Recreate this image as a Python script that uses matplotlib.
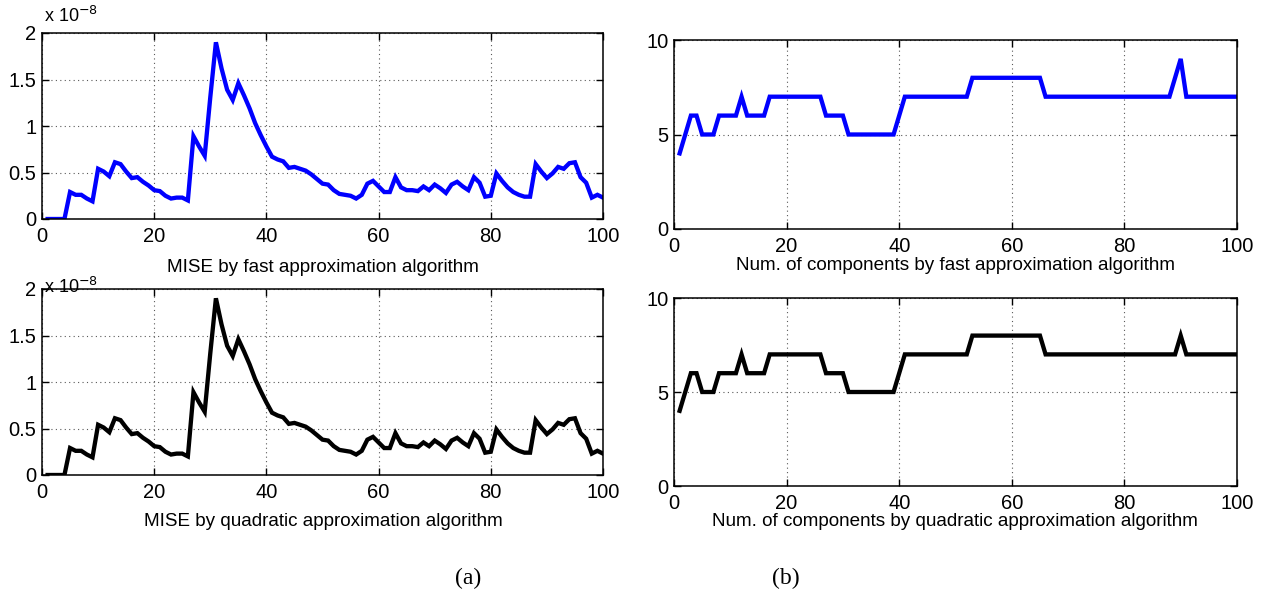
import matplotlib
matplotlib.use("Agg")
import matplotlib.pyplot as plt
from matplotlib.ticker import FuncFormatter

# ---- data (x = 1..100) ----
x_index = list(range(1, 101))

# MISE values in units of 1e-8
mise_fast = [0, 0, 0, 0, 0.29, 0.26, 0.26, 0.22, 0.19, 0.54,
             0.51, 0.46, 0.61, 0.59, 0.51, 0.44, 0.45, 0.40, 0.36, 0.31,
             0.30, 0.25, 0.22, 0.23, 0.23, 0.20, 0.89, 0.78, 0.68, 1.31,
             1.90, 1.62, 1.39, 1.28, 1.46, 1.33, 1.19, 1.03, 0.90, 0.78,
             0.67, 0.64, 0.62, 0.55, 0.56, 0.54, 0.52, 0.48, 0.43, 0.38,
             0.37, 0.31, 0.27, 0.26, 0.25, 0.22, 0.26, 0.38, 0.41, 0.35,
             0.29, 0.29, 0.45, 0.34, 0.31, 0.31, 0.30, 0.35, 0.31, 0.37,
             0.33, 0.28, 0.37, 0.40, 0.35, 0.31, 0.45, 0.39, 0.24, 0.25,
             0.49, 0.41, 0.34, 0.29, 0.26, 0.24, 0.24, 0.59, 0.51, 0.44,
             0.49, 0.56, 0.54, 0.60, 0.61, 0.45, 0.39, 0.23, 0.26, 0.23]

mise_quad = [0, 0, 0, 0, 0.29, 0.26, 0.26, 0.22, 0.19, 0.54,
             0.51, 0.46, 0.61, 0.59, 0.51, 0.44, 0.45, 0.40, 0.36, 0.31,
             0.30, 0.25, 0.22, 0.23, 0.23, 0.20, 0.89, 0.78, 0.68, 1.31,
             1.90, 1.62, 1.39, 1.28, 1.46, 1.33, 1.19, 1.03, 0.90, 0.78,
             0.67, 0.64, 0.62, 0.55, 0.56, 0.54, 0.52, 0.48, 0.43, 0.38,
             0.37, 0.31, 0.27, 0.26, 0.25, 0.22, 0.26, 0.38, 0.41, 0.35,
             0.29, 0.29, 0.45, 0.34, 0.31, 0.31, 0.30, 0.35, 0.31, 0.37,
             0.33, 0.28, 0.37, 0.40, 0.35, 0.31, 0.45, 0.39, 0.24, 0.25,
             0.49, 0.41, 0.34, 0.29, 0.26, 0.24, 0.24, 0.59, 0.51, 0.44,
             0.49, 0.56, 0.54, 0.60, 0.61, 0.45, 0.39, 0.23, 0.26, 0.23]

comp_fast = [4, 5, 6, 6, 5, 5, 5, 6, 6, 6,
             6, 7, 6, 6, 6, 6, 7, 7, 7, 7,
             7, 7, 7, 7, 7, 7, 6, 6, 6, 6,
             5, 5, 5, 5, 5, 5, 5, 5, 5, 6,
             7, 7, 7, 7, 7, 7, 7, 7, 7, 7,
             7, 7, 8, 8, 8, 8, 8, 8, 8, 8,
             8, 8, 8, 8, 8, 7, 7, 7, 7, 7,
             7, 7, 7, 7, 7, 7, 7, 7, 7, 7,
             7, 7, 7, 7, 7, 7, 7, 7, 8, 9,
             7, 7, 7, 7, 7, 7, 7, 7, 7, 7]

comp_quad = [4, 5, 6, 6, 5, 5, 5, 6, 6, 6,
             6, 7, 6, 6, 6, 6, 7, 7, 7, 7,
             7, 7, 7, 7, 7, 7, 6, 6, 6, 6,
             5, 5, 5, 5, 5, 5, 5, 5, 5, 6,
             7, 7, 7, 7, 7, 7, 7, 7, 7, 7,
             7, 7, 8, 8, 8, 8, 8, 8, 8, 8,
             8, 8, 8, 8, 8, 7, 7, 7, 7, 7,
             7, 7, 7, 7, 7, 7, 7, 7, 7, 7,
             7, 7, 7, 7, 7, 7, 7, 7, 7, 8,
             7, 7, 7, 7, 7, 7, 7, 7, 7, 7]

x_ticks = [0, 20, 40, 60, 80, 100]
mise_ticks = [0, 0.5, 1, 1.5, 2]
comp_ticks = [0, 5, 10]

label_mise_fast = "MISE by fast approximation algorithm"
label_mise_quad = "MISE by quadratic approximation algorithm"
label_comp_fast = "Num. of components by fast approximation algorithm"
label_comp_quad = "Num. of components by quadratic approximation algorithm"

# ---- figure ----
W, H = 1261, 596
fig = plt.figure(figsize=(W / 100, H / 100), dpi=100)
plt.rcParams['font.family'] = ['Liberation Sans', 'DejaVu Sans']

def px_axes(l, t, r, b):
    return fig.add_axes([l / W, 1 - b / H, (r - l) / W, (b - t) / H])

fmt = FuncFormatter(lambda v, p: "%g" % v)

def style(ax, yticks, ylim):
    ax.set_xlim(0, 100)
    ax.set_ylim(*ylim)
    ax.set_xticks(x_ticks)
    ax.set_yticks(yticks)
    ax.yaxis.set_major_formatter(fmt)
    ax.xaxis.set_major_formatter(fmt)
    ax.grid(True, linestyle=(0, (1, 3)), color='0.35', linewidth=0.8)
    ax.tick_params(direction='in', top=True, right=True, length=5,
                   width=1.0, labelsize=14.5, colors='black')
    ax.tick_params(axis='x', pad=6)
    ax.tick_params(axis='y', pad=4)
    for s in ax.spines.values():
        s.set_linewidth(1.1)
        s.set_color('black')
    ax.set_axisbelow(True)

ax1 = px_axes(42, 33, 603, 219)
ax2 = px_axes(42, 289, 603, 475)
ax3 = px_axes(674, 40, 1237, 229)
ax4 = px_axes(674, 298, 1237, 486)

ax1.plot(x_index, mise_fast, color='#0000ff', lw=3.1, solid_joinstyle='miter')
ax2.plot(x_index, mise_quad, color='black', lw=3.1, solid_joinstyle='miter')
ax3.plot(x_index, comp_fast, color='#0000ff', lw=3.1, solid_joinstyle='miter')
ax4.plot(x_index, comp_quad, color='black', lw=3.1, solid_joinstyle='miter')

for ax in (ax1, ax2):
    style(ax, mise_ticks, (0, 2))
for ax in (ax3, ax4):
    style(ax, comp_ticks, (0, 10))

# exponent labels
fig.text(44 / W, 1 - 16 / H, r"x 10$^{-8}$", fontsize=13, ha='left', va='center')
fig.text(44 / W, 1 - 287 / H, r"x 10$^{-8}$", fontsize=13, ha='left', va='center')

# x-axis captions
fig.text(323 / W, 1 - 267 / H, label_mise_fast, fontsize=13.6, ha='center', va='center')
fig.text(323 / W, 1 - 521 / H, label_mise_quad, fontsize=13.6, ha='center', va='center')
fig.text(955 / W, 1 - 265 / H, label_comp_fast, fontsize=13.6, ha='center', va='center')
fig.text(955 / W, 1 - 522 / H, label_comp_quad, fontsize=13.6, ha='center', va='center')

# panel labels
fig.text(468 / W, 1 - 578 / H, "(a)", fontsize=17, ha='center', va='center',
         family=['Liberation Serif', 'DejaVu Serif'])
fig.text(786 / W, 1 - 578 / H, "(b)", fontsize=17, ha='center', va='center',
         family=['Liberation Serif', 'DejaVu Serif'])

fig.savefig("out.png", dpi=100)
